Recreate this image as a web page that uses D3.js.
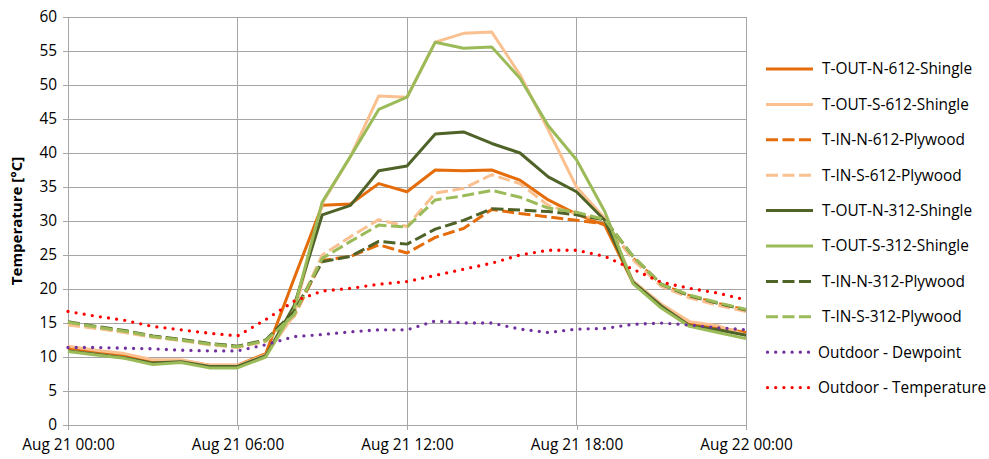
<!DOCTYPE html>
<html>
<head>
<meta charset="utf-8">
<script src="https://cdn.jsdelivr.net/npm/d3@7/dist/d3.min.js"></script>
<style>
  body { margin: 0; background: #fff; }
  text { font-family: "Open Sans", sans-serif; fill: #000; }
</style>
</head>
<body>
<svg id="chart" width="989" height="459"></svg>
<script>
// hourly readings, Aug 21 00:00 .. Aug 22 00:00
var hours = [0, 1, 2, 3, 4, 5, 6, 7, 8, 9, 10, 11, 12, 13, 14, 15, 16, 17, 18, 19, 20, 21, 22, 23, 24];
var xTicks = [0, 6, 12, 18, 24];
var xTickLabels = ["Aug 21 00:00", "Aug 21 06:00", "Aug 21 12:00", "Aug 21 18:00", "Aug 22 00:00"];
var yTicks = [0, 5, 10, 15, 20, 25, 30, 35, 40, 45, 50, 55, 60];

var seriesNames = ["T-OUT-N-612-Shingle", "T-OUT-S-612-Shingle", "T-IN-N-612-Plywood", "T-IN-S-612-Plywood",
    "T-OUT-N-312-Shingle", "T-OUT-S-312-Shingle", "T-IN-N-312-Plywood", "T-IN-S-312-Plywood",
    "Outdoor - Dewpoint", "Outdoor - Temperature"];

var tOutN612 = [11.3, 10.8, 10.3, 9.4, 9.5, 8.8, 8.8, 10.5, 21.5, 32.3, 32.5, 35.5, 34.3, 37.5, 37.4, 37.5, 36.0, 33.1, 31.0, 29.4, 20.9, 17.6, 14.9, 14.3, 13.6];
var tOutS612 = [11.6, 11.0, 10.5, 9.6, 9.6, 8.8, 8.8, 10.3, 16.2, 32.6, 39.5, 48.4, 48.2, 56.3, 57.6, 57.8, 51.5, 43.4, 35.0, 30.4, 21.2, 17.8, 15.2, 14.6, 13.2];
var tInN612 = [15.0, 14.3, 13.7, 13.0, 12.5, 11.9, 11.5, 12.4, 16.0, 24.2, 24.8, 26.5, 25.3, 27.6, 28.9, 31.7, 31.1, 30.6, 30.1, 29.6, 24.5, 20.7, 19.0, 17.9, 16.9];
var tInS612 = [14.7, 14.2, 13.6, 12.9, 12.4, 11.8, 11.4, 12.3, 16.0, 25.0, 27.7, 30.2, 29.2, 34.1, 34.8, 36.8, 35.5, 32.3, 31.0, 30.0, 24.3, 20.4, 18.7, 17.6, 16.7];
var tOutN312 = [10.9, 10.4, 9.9, 9.1, 9.3, 8.6, 8.6, 10.2, 17.5, 30.9, 32.3, 37.4, 38.1, 42.8, 43.1, 41.4, 40.0, 36.5, 34.3, 30.1, 21.0, 17.5, 14.6, 14.0, 13.2];
var tOutS312 = [10.8, 10.3, 9.8, 8.9, 9.2, 8.4, 8.4, 10.0, 17.0, 32.8, 39.5, 46.4, 48.2, 56.3, 55.4, 55.6, 51.0, 44.0, 39.0, 31.4, 20.8, 17.2, 14.5, 13.6, 12.7];
var tInN312 = [15.2, 14.5, 13.9, 13.1, 12.6, 12.0, 11.6, 12.5, 16.7, 24.0, 24.8, 27.0, 26.6, 28.8, 30.1, 31.8, 31.6, 31.4, 30.9, 30.2, 24.8, 20.7, 19.0, 17.9, 16.9];
var tInS312 = [15.1, 14.4, 13.8, 13.0, 12.5, 11.9, 11.5, 12.4, 16.2, 24.5, 27.0, 29.4, 29.1, 33.1, 33.7, 34.5, 33.5, 31.9, 31.3, 30.2, 24.8, 20.7, 19.1, 18.0, 17.0];
var dewpoint = [11.4, 11.4, 11.3, 11.2, 11.0, 10.9, 10.9, 11.8, 13.0, 13.3, 13.7, 14.0, 14.0, 15.3, 15.0, 15.0, 14.1, 13.6, 14.1, 14.2, 14.8, 15.0, 14.7, 14.3, 14.0];
var outdoorTemp = [16.7, 16.0, 15.4, 14.5, 14.0, 13.5, 13.1, 15.5, 18.2, 19.7, 20.1, 20.7, 21.1, 22.0, 22.9, 23.8, 25.0, 25.7, 25.7, 24.8, 22.9, 21.0, 20.1, 19.4, 18.4];

var seriesValues = [tOutN612, tOutS612, tInN612, tInS612, tOutN312, tOutS312, tInN312, tInS312, dewpoint, outdoorTemp];
var seriesColors = ["#E46C0A", "#FAC090", "#E46C0A", "#FAC090", "#4F6228", "#9BBB59", "#4F6228", "#9BBB59", "#7030A0", "#FF0000"];
var seriesKinds = ["solid", "solid", "dash", "dash", "solid", "solid", "dash", "dash", "dot", "dot"];

var dashFor = {solid: null, dash: "12,4.5", dot: "0,8.2"};
var capFor = {solid: "butt", dash: "butt", dot: "round"};

var margin = {top: 17, right: 243, bottom: 34, left: 68},
    width = 989 - margin.left - margin.right,
    height = 459 - margin.top - margin.bottom;

var svg = d3.select("#chart");
var g = svg.append("g").attr("transform", "translate(" + margin.left + "," + margin.top + ")");

var x = d3.scaleLinear().domain([0, 24]).range([0, width]);
var y = d3.scaleLinear().domain([0, 60]).range([height, 0]);

var gridColor = "#A6A6A6";

// horizontal grid
g.append("g")
    .selectAll("line")
    .data(yTicks.filter(function(d) { return d > 0; }))
    .enter().append("line")
    .attr("x1", 0).attr("x2", width)
    .attr("y1", function(d) { return y(d); })
    .attr("y2", function(d) { return y(d); })
    .attr("stroke", gridColor).attr("stroke-width", 1)
    .attr("shape-rendering", "crispEdges");

// vertical grid
g.append("g")
    .selectAll("line")
    .data(xTicks.filter(function(d) { return d > 0; }))
    .enter().append("line")
    .attr("x1", function(d) { return x(d); })
    .attr("x2", function(d) { return x(d); })
    .attr("y1", 0).attr("y2", height)
    .attr("stroke", gridColor).attr("stroke-width", 1)
    .attr("shape-rendering", "crispEdges");

var yAxis = d3.axisLeft(y).tickValues(yTicks).tickSize(5).tickPadding(6);
var ya = g.append("g").call(yAxis);
ya.selectAll("path, line").attr("stroke", gridColor).attr("shape-rendering", "crispEdges");
ya.selectAll("text").style("font-size", "15.4px").attr("fill", "#000");

var xAxis = d3.axisBottom(x).tickValues(xTicks).tickSize(5).tickPadding(9)
    .tickFormat(function(d, i) { return xTickLabels[i]; });
var xa = g.append("g").attr("transform", "translate(0," + height + ")").call(xAxis);
xa.selectAll("path, line").attr("stroke", gridColor).attr("shape-rendering", "crispEdges");
xa.selectAll("text").style("font-size", "15.4px").attr("fill", "#000");

// y title
svg.append("text")
    .attr("transform", "translate(22," + (margin.top + height / 2) + ") rotate(-90)")
    .attr("text-anchor", "middle")
    .style("font-size", "15px")
    .style("font-weight", "bold")
    .text("Temperature [°C]");

var line = d3.line()
    .x(function(d, i) { return x(hours[i]); })
    .y(function(d) { return y(d); });

seriesValues.forEach(function(vals, k) {
    g.append("path")
        .datum(vals)
        .attr("fill", "none")
        .attr("stroke", seriesColors[k])
        .attr("stroke-width", seriesKinds[k] === "dot" ? 3.3 : 3)
        .attr("stroke-linejoin", "round")
        .attr("stroke-linecap", capFor[seriesKinds[k]])
        .attr("stroke-dasharray", dashFor[seriesKinds[k]])
        .attr("d", line);
});

// legend
var legend = svg.append("g").attr("transform", "translate(766,69)");
var item = legend.selectAll("g")
    .data(seriesNames)
    .enter().append("g")
    .attr("transform", function(d, i) { return "translate(0," + (i * 35.4) + ")"; });

item.append("line")
    .attr("x1", function(d, i) { return seriesKinds[i] === "dot" ? 1.5 : 0; })
    .attr("x2", function(d, i) { return seriesKinds[i] === "dot" ? 44 : 47; })
    .attr("y1", 0).attr("y2", 0)
    .attr("stroke", function(d, i) { return seriesColors[i]; })
    .attr("stroke-width", function(d, i) { return seriesKinds[i] === "dot" ? 3.3 : 3; })
    .attr("stroke-linecap", function(d, i) { return capFor[seriesKinds[i]]; })
    .attr("stroke-dasharray", function(d, i) { return dashFor[seriesKinds[i]]; });

item.append("text")
    .attr("x", function(d, i) { return seriesKinds[i] === "dot" ? 52 : 56; })
    .attr("y", 0)
    .attr("dy", "0.35em")
    .style("font-size", "15.4px")
    .text(function(d) { return d; });
</script>
</body>
</html>
